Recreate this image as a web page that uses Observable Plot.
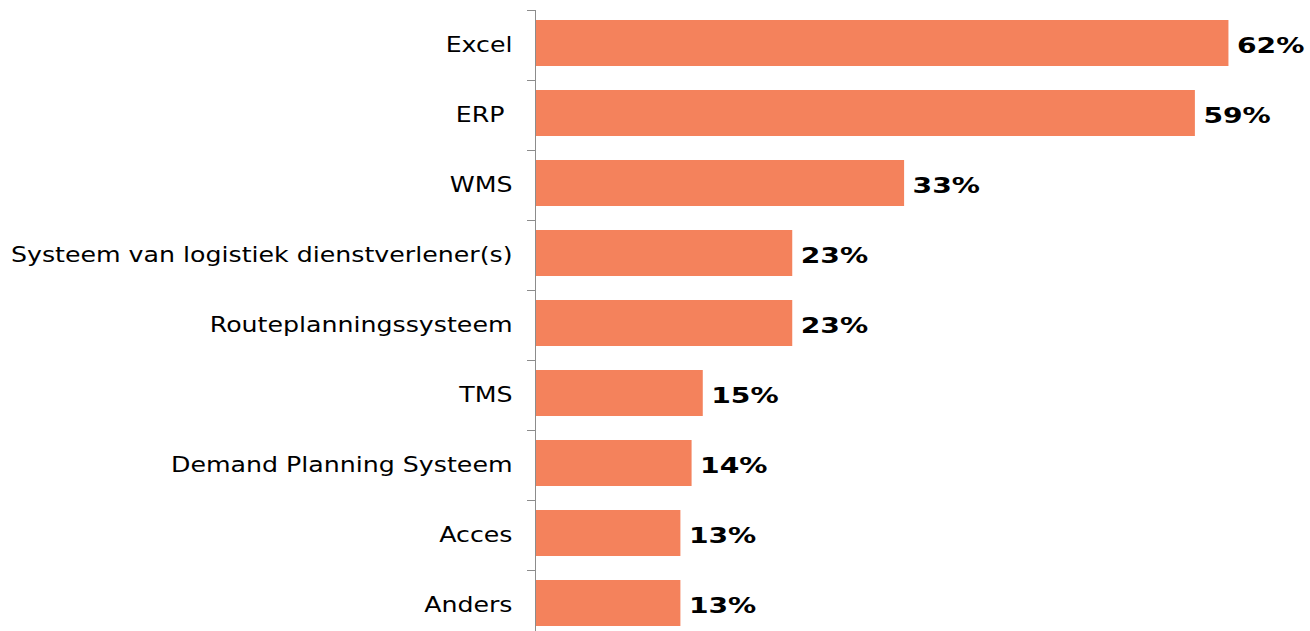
<!DOCTYPE html>
<html><head><meta charset="utf-8">
<script src="https://cdn.jsdelivr.net/npm/d3@7"></script>
<script src="https://cdn.jsdelivr.net/npm/@observablehq/plot@0.6"></script>
<style>html,body{margin:0;padding:0;overflow:hidden;background:#fff}</style>
</head><body><div id="chart"></div>
<script>
const categories = ["Excel", "ERP\u00a0", "WMS", "Systeem van logistiek dienstverlener(s)", "Routeplanningssysteem", "TMS", "Demand Planning Systeem", "Acces", "Anders"];
const values = [62, 59, 33, 23, 23, 15, 14, 13, 13];
const valueLabels = ["62%", "59%", "33%", "23%", "23%", "15%", "14%", "13%", "13%"];

const data = categories.map((c, i) => ({category: c, value: values[i], label: valueLabels[i]}));

const W = 1310, H = 640, MT = 10, MB = 0, ML = 535, MR = 48;
const step = (H - MT - MB) / categories.length;

const plot = Plot.plot({
  width: W, height: H, marginTop: MT, marginBottom: MB, marginLeft: ML, marginRight: MR,
  style: {fontFamily: "'DejaVu Sans', Verdana, sans-serif", fontSize: "21px", color: "#000", background: "#fff"},
  x: {domain: [0, 65], axis: null},
  y: {domain: categories, padding: 0, axis: null},
  marks: [
    Plot.barX(data, {x: "value", y: "category", fill: "#F4825C", insetTop: 10, insetBottom: 14}),
    Plot.axisY({tickSize: 8, tickFormat: () => "", dy: -step / 2, stroke: "#8c8c8c", label: null}),
    Plot.axisY({tickSize: 0, tickPadding: 23, fill: "#000", fontSize: 21, label: null}),
    Plot.ruleX([0], {stroke: "#8c8c8c"}),
    Plot.text(data, {x: "value", y: "category", text: "label", textAnchor: "start", dx: 8, fontWeight: "bold", fontSize: 22, fill: "#000"})
  ]
});
document.getElementById("chart").append(plot);

function stretch(t, f) {
  const L = t.getComputedTextLength();
  if (L > 0) {
    t.setAttribute("textLength", L * f);
    t.setAttribute("lengthAdjust", "spacingAndGlyphs");
  }
}
plot.querySelectorAll('g[aria-label="y-axis tick label"] text').forEach(t => stretch(t, 1.202));
plot.querySelectorAll('g[aria-label="text"] text').forEach(t => stretch(t, 1.28));
</script>
</body></html>
